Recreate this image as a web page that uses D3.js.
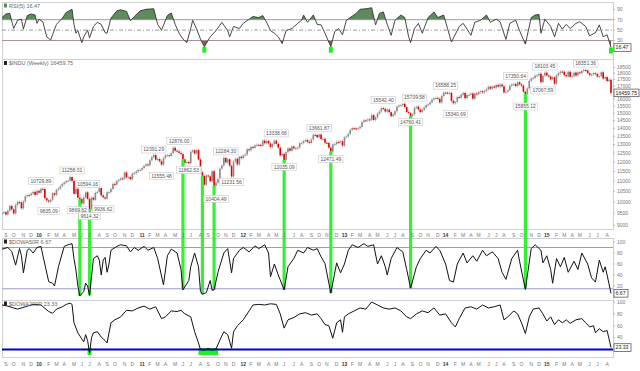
<!DOCTYPE html>
<html>
<head>
<meta charset="utf-8">
<script src="https://cdn.jsdelivr.net/npm/d3@7"></script>
<style>
body { margin: 0; background: #fff; }
text { font-family: "Liberation Sans", Arial, sans-serif; }
</style>
</head>
<body>
<svg id="chart" width="640" height="371"></svg>
<script>
// weekly closes of $INDU, first week ending 2009-08-21
var startWeek = new Date(2009, 7, 21);
var closes2009 = [9505.96, 9544.20, 9441.27, 9605.41, 9820.20, 9665.19, 9487.67, 9864.94, 9995.91, 9972.18, 9712.73, 10023.42, 10270.47, 10318.16, 10309.92, 10388.90, 10471.50, 10328.89, 10520.10, 10428.05];
var closes2010 = [10618.19, 10609.65, 10172.98, 10067.33, 10012.23, 10099.14, 10402.35, 10325.26, 10566.20, 10624.69, 10741.98, 10850.36, 10927.07, 10997.35, 11018.66, 11204.28, 11008.61, 10380.43, 10620.16, 10193.39, 10136.63, 9931.97, 10211.07, 10450.64, 10143.81, 9686.48, 10198.03, 10097.90, 10424.62, 10465.94, 10653.56, 10303.15, 10213.62, 10150.65, 10447.93, 10462.77, 10607.85, 10860.26, 10829.68, 11006.48, 11062.78, 11132.56, 11118.49, 11444.08, 11192.58, 11203.55, 11092.00, 11382.09, 11410.32, 11491.91, 11573.49, 11577.51];
var closes2011 = [11674.76, 11787.38, 11871.84, 11823.70, 12092.15, 12273.26, 12391.25, 12130.45, 12169.88, 12044.40, 11858.52, 12220.59, 12376.72, 12380.05, 12341.83, 12505.99, 12810.54, 12638.74, 12595.75, 12512.04, 12441.58, 12151.26, 11951.91, 12004.36, 11934.58, 12582.77, 12657.20, 12479.73, 12681.16, 12143.24, 11444.61, 11269.02, 10817.65, 11284.54, 11240.26, 10992.13, 11509.09, 10771.48, 10913.38, 11103.12, 11644.49, 11808.79, 12231.11, 11983.24, 12153.68, 11796.16, 11231.78, 12019.42, 12184.26, 11866.39, 12294.00, 12217.56];
var closes2012 = [12359.92, 12422.06, 12720.48, 12660.46, 12862.23, 12801.23, 12949.87, 12982.95, 12977.57, 12922.02, 13232.62, 13080.73, 13212.04, 13060.14, 12849.59, 13029.26, 13228.31, 13038.27, 12820.60, 12369.38, 12454.83, 12118.57, 12554.20, 12767.17, 12640.78, 12880.09, 12772.47, 12777.09, 12822.57, 13075.66, 13096.17, 13207.95, 13275.20, 13157.97, 13090.84, 13306.64, 13593.37, 13579.47, 13437.13, 13610.15, 13328.85, 13343.51, 13107.21, 13093.16, 12815.39, 12588.31, 13009.68, 13025.58, 13155.13, 13135.01, 13190.84, 12938.11];
var closes2013 = [13435.21, 13488.43, 13649.70, 13895.98, 14009.79, 13992.97, 13981.76, 14000.57, 14089.66, 14397.07, 14514.11, 14512.03, 14578.54, 14565.25, 14865.06, 14547.51, 14712.55, 14973.96, 15118.49, 15354.40, 15303.10, 15115.57, 15248.12, 15070.18, 14799.40, 14909.60, 15135.84, 15464.30, 15543.74, 15558.83, 15658.36, 15425.51, 15081.47, 15010.51, 14810.31, 14922.50, 15376.06, 15451.09, 15258.24, 15072.58, 15237.11, 15399.65, 15570.28, 15615.55, 15761.78, 15961.70, 16064.77, 16086.41, 16020.20, 15755.36, 16221.14, 16478.41];
var closes2014 = [16469.99, 16437.05, 16458.56, 15879.11, 15698.85, 15794.08, 16154.39, 16103.30, 16321.71, 16452.72, 16065.67, 16302.77, 16323.06, 16412.71, 16026.75, 16408.54, 16361.46, 16512.89, 16583.34, 16491.31, 16606.27, 16717.17, 16924.28, 16775.74, 16947.08, 16851.84, 17068.26, 16943.81, 17100.18, 16960.57, 16493.37, 16553.93, 16662.91, 17001.22, 17098.45, 17137.36, 16987.51, 17279.74, 17113.15, 17009.69, 16544.10, 16380.41, 16805.41, 17390.52, 17573.93, 17634.74, 17810.06, 17828.24, 17958.79, 17280.83, 17804.80, 18053.71];
var closes2015 = [17832.99, 17737.37, 17511.57, 17672.60, 17164.95, 17824.29, 18019.35, 18140.44, 18132.70, 17856.78, 17749.31, 18127.65, 17712.66, 17763.24, 18057.65, 17826.30, 18080.14, 18024.06, 18191.11, 18272.56, 18232.02, 18010.68, 17849.46, 17898.84, 18015.95, 17946.68, 17730.11, 17760.41, 18086.45, 17568.53, 17689.86, 17373.38, 17477.40, 16459.75];

// price annotations: week index, value, label, side
var annWeek = [20, 24, 36, 39, 44, 45, 52, 78, 82, 91, 96, 110, 115, 118, 141, 145, 163, 169, 196, 210, 212, 228, 233, 264, 269, 278, 279, 300];
var annValue = [10729.89, 9835.09, 11258.01, 9869.62, 10594.16, 9614.32, 9936.62, 12391.29, 11555.48, 12876.00, 11862.53, 10404.49, 12284.30, 11231.56, 13338.66, 12035.09, 13661.87, 12471.49, 15542.40, 14760.41, 15709.58, 16588.25, 15340.69, 17350.64, 15855.12, 17067.59, 18103.45, 18351.36];
var annSide = ["hi", "lo", "hi", "lo", "hi", "lo", "lo", "hi", "lo", "hi", "lo", "lo", "hi", "lo", "hi", "lo", "hi", "lo", "hi", "lo", "hi", "hi", "lo", "hi", "lo", "lo", "hi", "hi"];

// RSI(5): [week index, value]
var rsiPts = [[0,74],[2,81],[4,82],[6,53],[8,69],[10,71],[11,52],[13,78],[15,81],[17,79],[18,63],[19,71],[21,66],[23,37],[25,31],[26,41],[28,61],[31,73],[33,84],[36,90],[37,61],[38,44],[39,49],[41,26],[42,37],[44,50],[45,35],[47,57],[49,65],[51,61],[53,45],[54,44],[56,73],[59,87],[61,89],[64,86],[66,68],[68,76],[71,87],[74,90],[78,91],[80,61],[82,50],[85,78],[87,83],[89,61],[91,44],[93,33],[95,26],[97,53],[98,69],[100,52],[102,33],[104,18],[107,37],[110,49],[113,65],[116,49],[117,37],[119,57],[122,53],[124,63],[127,71],[129,76],[132,74],[134,78],[136,65],[138,49],[140,44],[142,37],[144,24],[146,49],[149,53],[152,63],[154,69],[155,79],[157,65],[160,79],[162,61],[164,60],[166,44],[169,18],[171,47],[173,53],[175,41],[177,69],[182,82],[184,90],[187,91],[190,93],[192,60],[194,82],[196,85],[198,61],[200,40],[202,69],[205,79],[207,74],[209,37],[210,26],[212,53],[214,63],[216,44],[219,74],[222,85],[224,74],[227,79],[229,53],[231,27],[235,57],[237,63],[239,52],[241,40],[243,65],[246,69],[249,79],[251,65],[254,71],[256,66],[259,32],[261,63],[264,69],[266,49],[269,23],[272,74],[274,79],[276,80],[277,44],[279,71],[282,57],[284,37],[286,63],[288,52],[290,61],[292,53],[295,63],[297,66],[300,57],[302,39],[305,45],[307,60],[309,37],[311,41],[313,16.47]];
var rsiTicks = [10, 30, 50, 70, 90];
var rsiGreenWeeks = [104, 169, 313];

// $DOWA50R: percent of Dow stocks above 50-day average
var d50Pts = [[0,87],[3,90],[5,83],[7,58],[9,88],[10,75],[11,44],[13,85],[14,88],[16,80],[18,90],[20,92],[22,60],[24,28],[26,25],[27,20],[29,55],[31,80],[32,92],[34,95],[36,97],[37,70],[38,49],[39,20],[40,2],[42,10],[43,25],[44,20],[45,3],[47,70],[49,75],[50,67],[51,40],[52,67],[53,72],[54,45],[55,60],[56,85],[59,92],[61,95],[64,93],[66,82],[68,90],[70,85],[73,92],[75,85],[78,90],[80,70],[83,22],[85,75],[87,87],[90,80],[92,50],[93,13],[96,30],[97,55],[99,80],[101,55],[102,10],[103,5],[105,8],[107,30],[108,12],[109,13],[111,45],[114,80],[116,88],[118,44],[119,70],[122,85],[124,90],[127,82],[130,93],[132,88],[135,95],[137,80],[138,37],[140,60],[142,40],[145,13],[147,55],[150,70],[152,85],[155,80],[157,90],[160,85],[162,88],[164,73],[166,61],[169,7],[172,62],[174,44],[176,60],[178,85],[180,95],[183,90],[186,97],[188,92],[191,95],[193,60],[195,75],[197,55],[198,40],[200,70],[203,90],[206,82],[208,50],[210,16],[213,55],[215,70],[218,85],[220,80],[223,92],[225,85],[228,60],[230,30],[232,27],[234,60],[237,80],[239,62],[242,75],[244,65],[247,85],[249,75],[252,82],[255,70],[257,45],[259,32],[262,70],[265,85],[266,65],[269,14],[272,88],[274,95],[277,85],[278,62],[280,75],[282,50],[283,25],[285,70],[287,55],[289,72],[291,45],[294,65],[296,50],[298,80],[301,60],[303,35],[305,27],[307,67],[309,45],[310,55],[311,40],[313,6.67]];
var d50Ticks = [0, 20, 40, 60, 80, 100];
var d50Levels = [90, 15];
var greenWeeks = [40, 45, 93, 103, 109, 145, 169, 210, 269];

// $DOWA200R: percent of Dow stocks above 200-day average
var d200Pts = [[0,95],[3,93],[6,90],[8,88],[12,92],[16,96],[20,95],[24,84],[26,81],[28,88],[31,92],[33,96],[35,98],[36,96],[37,65],[39,48],[42,33],[43,45],[44,35],[45,14],[46,40],[47,48],[49,50],[51,41],[53,35],[54,31],[56,65],[58,70],[61,75],[64,86],[67,85],[70,90],[73,93],[76,88],[79,92],[82,72],[84,75],[87,85],[90,84],[92,86],[94,80],[97,75],[99,50],[101,31],[102,20],[104,19],[106,22],[108,19],[110,21],[112,36],[114,50],[116,45],[118,22],[119,50],[121,60],[124,70],[127,85],[129,95],[132,96],[135,95],[138,97],[141,96],[143,80],[145,56],[147,70],[150,74],[153,80],[156,82],[159,78],[162,80],[164,72],[166,62],[168,60],[170,39],[172,65],[174,70],[175,49],[176,75],[178,80],[181,85],[184,90],[187,88],[190,100],[193,95],[196,90],[199,88],[202,90],[205,85],[208,75],[210,72],[213,80],[216,85],[219,82],[222,90],[225,78],[228,80],[231,65],[233,58],[235,72],[238,90],[241,92],[244,88],[247,95],[250,90],[253,92],[256,95],[258,70],[260,75],[263,85],[265,80],[267,65],[269,47],[271,75],[273,88],[276,90],[278,80],[280,68],[282,75],[284,62],[286,70],[288,65],[290,70],[292,64],[295,70],[298,72],[300,65],[302,58],[304,60],[305,48],[307,55],[309,50],[311,52],[313,23.33]];
var d200Ticks = [20, 40, 60, 80, 100];
var d200Level = 20;
var d200GreenRanges = [[45, 45], [102, 110]];

var priceTicks = [9000, 9500, 10000, 10500, 11000, 11500, 12000, 12500, 13000, 13500, 14000, 14500, 15000, 15500, 16000, 16500, 17000, 17500, 18000, 18500];
var monthLetters = ["J", "F", "M", "A", "M", "J", "J", "A", "S", "O", "N", "D"];

var closes = [].concat(closes2009, closes2010, closes2011, closes2012, closes2013, closes2014, closes2015);
var weeks = closes.map(function (c, i) { return d3.timeDay.offset(startWeek, 7 * i); });
var last = closes.length - 1;

var svg = d3.select("#chart");
var left = 2, right = 613;

var x = d3.scaleTime().domain([weeks[0], weeks[last]]).range([2, 611]);
function xi(i) { return x(weeks[i]); }

var yRsi = d3.scaleLinear().domain([0, 100]).range([56.1, 4.1]);
var yPrice = d3.scaleLog().domain([9000, 18500]).range([225, 67.3]);
var y50 = d3.scaleLinear().domain([0, 100]).range([297, 242]);
var y200 = d3.scaleLinear().domain([0, 100]).range([361.4, 302]);

var panels = [[2, 59], [59, 229], [238, 300], [300, 357]];

// panel frames
panels.forEach(function (p) {
  svg.append("rect").attr("x", left + 0.5).attr("y", p[0] + 0.5).attr("width", right - left)
    .attr("height", p[1] - p[0]).attr("fill", "#fff").attr("stroke", "#cfcfcf");
});

var defs = svg.append("defs");
panels.forEach(function (p, k) {
  defs.append("clipPath").attr("id", "clip" + k).append("rect")
    .attr("x", left).attr("y", p[0]).attr("width", right - left).attr("height", p[1] - p[0]);
});

function rightLabels(ticks, scale, skip) {
  ticks.forEach(function (t) {
    var yy = scale(t);
    svg.append("line").attr("x1", right).attr("x2", right + 2).attr("y1", yy).attr("y2", yy).attr("stroke", "#bbb");
    if (skip && Math.abs(yy - skip) < 4) return;
    svg.append("text").attr("x", right + 4).attr("y", yy + 1.8).attr("font-size", 5).attr("fill", "#777").text(t);
  });
}

// ---- RSI panel
var rsiG = svg.append("g").attr("clip-path", "url(#clip0)");
[70, 30].forEach(function (lv) {
  rsiG.append("line").attr("x1", left).attr("x2", right).attr("y1", yRsi(lv)).attr("y2", yRsi(lv)).attr("stroke", "#aaa");
});
rsiG.append("line").attr("x1", left).attr("x2", right).attr("y1", yRsi(50)).attr("y2", yRsi(50))
  .attr("stroke", "#999").attr("stroke-dasharray", "4,2,1,2");

defs.append("clipPath").attr("id", "rsiHi").append("rect").attr("x", left).attr("y", 0).attr("width", right).attr("height", yRsi(70));
defs.append("clipPath").attr("id", "rsiLo").append("rect").attr("x", left).attr("y", yRsi(30)).attr("width", right).attr("height", 40);

var rsiAreaHi = d3.area().x(function (d) { return xi(d[0]); }).y0(yRsi(70)).y1(function (d) { return yRsi(d[1]); });
var rsiAreaLo = d3.area().x(function (d) { return xi(d[0]); }).y0(yRsi(30)).y1(function (d) { return yRsi(d[1]); });
rsiG.append("path").datum(rsiPts).attr("clip-path", "url(#rsiHi)").attr("d", rsiAreaHi).attr("fill", "#5e8a5e");
rsiG.append("path").datum(rsiPts).attr("clip-path", "url(#rsiLo)").attr("d", rsiAreaLo).attr("fill", "#9c5252");
var rsiLine = d3.line().x(function (d) { return xi(d[0]); }).y(function (d) { return yRsi(d[1]); });
rsiG.append("path").datum(rsiPts).attr("d", rsiLine).attr("fill", "none").attr("stroke", "#333").attr("stroke-width", 0.9);

rsiGreenWeeks.forEach(function (w) {
  var pt = rsiPts.find(function (d) { return d[0] === w; });
  svg.append("rect").attr("x", xi(w) - 2).attr("y", yRsi(pt[1])).attr("width", 4).attr("height", 6)
    .attr("fill", "#22ee22");
});
rightLabels(rsiTicks, yRsi, yRsi(16.47));

// ---- price panel
var priceG = svg.append("g").attr("clip-path", "url(#clip1)");
closes.forEach(function (c, i) {
  var o = i > 0 ? closes[i - 1] : c;
  var top = yPrice(Math.max(o, c)), bot = yPrice(Math.min(o, c));
  var down = c < o;
  priceG.append("line").attr("x1", xi(i)).attr("x2", xi(i)).attr("y1", top - 1.5).attr("y2", bot + 1.5)
    .attr("stroke", down ? "#e08080" : "#aaa").attr("stroke-width", 0.6);
  priceG.append("rect").attr("x", xi(i) - 0.8).attr("y", top).attr("width", 1.6)
    .attr("height", Math.max(1, bot - top)).attr("fill", down ? "#e00000" : "#8a8a8a");
});

// ---- green marks from price down to the $DOWA50R low
greenWeeks.forEach(function (w) {
  var pt = d50Pts.find(function (d) { return d[0] === w; });
  svg.append("line").attr("x1", xi(w)).attr("x2", xi(w))
    .attr("y1", yPrice(closes[w])).attr("y2", y50(pt[1]))
    .attr("stroke", "#22ee22").attr("stroke-width", 3.2).attr("opacity", 0.9);
});

// annotations
annWeek.forEach(function (w, k) {
  var txt = annValue[k].toFixed(2);
  var cy = yPrice(annValue[k]) + (annSide[k] === "hi" ? -5.5 : 5.5);
  var bw = txt.length * 2.8 + 2;
  svg.append("rect").attr("x", xi(w) - bw / 2).attr("y", cy - 3.5).attr("width", bw).attr("height", 7)
    .attr("fill", "#fff").attr("stroke", "#c8c8c8").attr("stroke-width", 0.6);
  svg.append("text").attr("x", xi(w)).attr("y", cy + 1.8).attr("text-anchor", "middle")
    .attr("font-size", 5).attr("fill", "#555").text(txt);
});
rightLabels(priceTicks, yPrice, yPrice(closes[last]));

// ---- $DOWA50R panel
var d50G = svg.append("g").attr("clip-path", "url(#clip2)");
d50Levels.forEach(function (lv) {
  d50G.append("line").attr("x1", left).attr("x2", right).attr("y1", y50(lv)).attr("y2", y50(lv)).attr("stroke", "#9c9ccc");
});
var l50 = d3.line().x(function (d) { return xi(d[0]); }).y(function (d) { return y50(d[1]); });
d50G.append("path").datum(d50Pts).attr("d", l50).attr("fill", "none").attr("stroke", "#111").attr("stroke-width", 1);
rightLabels(d50Ticks, y50, y50(6.67));

// ---- $DOWA200R panel
var d200G = svg.append("g").attr("clip-path", "url(#clip3)");
d200GreenRanges.forEach(function (r) {
  d200G.append("rect").attr("x", xi(r[0]) - 2).attr("y", y200(d200Level) - 1.5)
    .attr("width", xi(r[1]) - xi(r[0]) + 4).attr("height", 7).attr("fill", "#22ee22");
});
d200G.append("line").attr("x1", left).attr("x2", right).attr("y1", y200(d200Level)).attr("y2", y200(d200Level))
  .attr("stroke", "#0000cc").attr("stroke-width", 2);
var l200 = d3.line().x(function (d) { return xi(d[0]); }).y(function (d) { return y200(d[1]); });
d200G.append("path").datum(d200Pts).attr("d", l200).attr("fill", "none").attr("stroke", "#111").attr("stroke-width", 1);
rightLabels(d200Ticks, y200, y200(23.33));

// ---- month labels under price and at bottom
var seen = {};
weeks.forEach(function (d, i) {
  var key = d.getFullYear() + "-" + d.getMonth();
  if (seen[key]) return;
  seen[key] = true;
  if (i === 0) return;
  var isYear = d.getMonth() === 0;
  var lab = isYear ? d3.timeFormat("%y")(d) : monthLetters[d.getMonth()];
  [236.5, 366].forEach(function (yy) {
    svg.append("text").attr("x", xi(i)).attr("y", yy).attr("text-anchor", "middle")
      .attr("font-size", 5).attr("font-weight", isYear ? "bold" : "normal")
      .attr("fill", isYear ? "#333" : "#777").text(lab);
  });
});

// ---- panel titles
function title(yy, txt, col) {
  svg.append("rect").attr("x", 4).attr("y", yy - 4).attr("width", 3).attr("height", 4).attr("fill", col);
  svg.append("text").attr("x", 9).attr("y", yy).attr("font-size", 5.5).attr("fill", "#666").text(txt);
}
title(7.5, "RSI(5) 16.47", "#5e8a5e");
title(65, "$INDU (Weekly) 16459.75", "#222");
title(243.5, "$DOWA50R 6.67", "#222");
title(305.5, "$DOWA200R 23.33", "#222");

// ---- last value tags
function tag(yy, txt, w) {
  svg.append("rect").attr("x", right + 1).attr("y", yy - 3.8).attr("width", w).attr("height", 7.6)
    .attr("fill", "#fff").attr("stroke", "#444").attr("stroke-width", 0.7);
  svg.append("text").attr("x", right + 2.5).attr("y", yy + 1.9).attr("font-size", 5.2).attr("fill", "#222").text(txt);
}
tag(yRsi(16.47), "16.47", 17);
tag(yPrice(closes[last]), closes[last].toFixed(2), 25);
tag(y50(6.67), "6.67", 14);
tag(y200(23.33), "23.33", 17);
</script>
</body>
</html>
